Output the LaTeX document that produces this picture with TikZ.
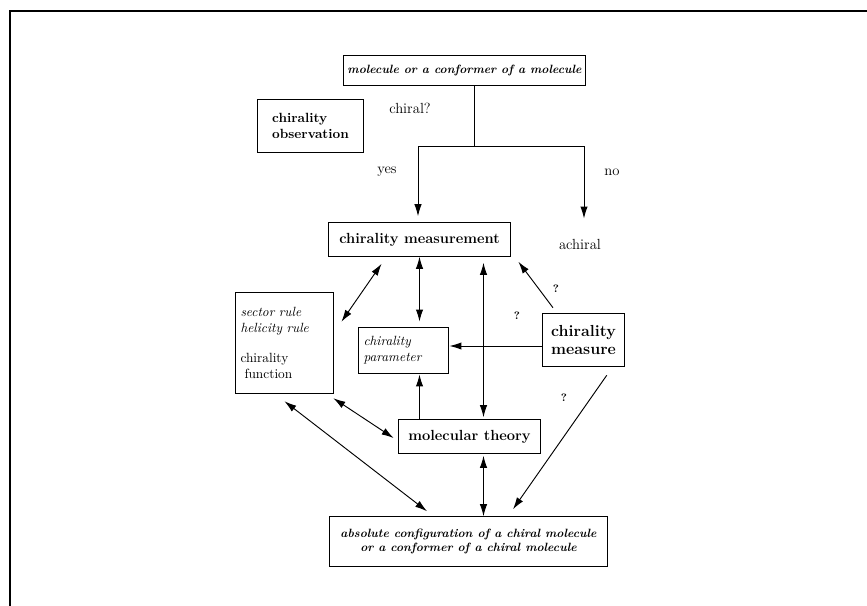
\documentclass[tikz,border=0pt]{standalone}
\usetikzlibrary{arrows.meta,calc}

\tikzset{
  box/.style={draw, line width=0.9pt, inner sep=2pt},
  arr/.style={line width=0.7pt, -{Latex[length=9pt,width=5.5pt]}},
  dbl/.style={line width=0.7pt, {Latex[length=9pt,width=5.5pt]}-{Latex[length=9pt,width=5.5pt]}},
  lbl/.style={inner sep=0pt, font=\fontsize{11}{13}\selectfont},
  qmark/.style={inner sep=0pt, font=\footnotesize\bfseries}
}

\begin{document}
\begin{tikzpicture}[x=0.75pt, y=-0.75pt]

\useasboundingbox (0,0) rectangle (867,606);
\draw[line width=1pt] (10,606) -- (10,11) -- (867,11);

% boxes
\node[box, minimum width=182pt, minimum height=23pt, font=\bfseries\itshape\small] (top) at (464.5,70.5) {molecule or a conformer of a molecule};
\node[box, minimum width=80pt, minimum height=40pt, align=left, font=\bfseries] (obs) at (310.5,126) {chirality\\observation};
\node[box, minimum width=137pt, minimum height=25pt, font=\bfseries\fontsize{11}{13}\selectfont] (meas) at (419.5,239.5) {chirality measurement};
\node[box, text width=66pt, minimum height=76pt, align=left, inner sep=4pt] (rule) at (284.5,343) {\textit{sector rule}\\\textit{helicity rule}\\[10pt]chirality\\\hspace*{3pt}function};
\node[box, text width=60pt, minimum height=35pt, align=left, inner sep=4pt, font=\itshape] (param) at (403.5,350.5) {chirality\\parameter};
\node[box, minimum width=61pt, minimum height=40pt, align=center, font=\bfseries\large] (measure) at (583.5,340) {chirality\\measure};
\node[box, minimum width=107pt, minimum height=25pt, font=\bfseries\fontsize{11}{13}\selectfont] (theory) at (469.5,436.5) {molecular theory};
\node[box, minimum width=209pt, minimum height=37pt, align=center, font=\bfseries\itshape\small] (abs) at (468.5,541.5) {absolute configuration of a chiral molecule\\or a conformer of a chiral molecule};

% texts
\node[lbl] (chiral) at (410,108) {chiral?};
\node[lbl] (yes) at (387,172) {yes};
\node[lbl] (no) at (612,172) {no};
\node[lbl] (achiral) at (580,244) {achiral};
\node[qmark] (q1) at (556,289) {?};
\node[qmark] (q2) at (517,316) {?};
\node[qmark] (q3) at (564,398) {?};

% decision
\draw[line width=0.7pt] ($(top.south)+(9.5,0)$) -- ++(0,60) coordinate (fork);
\draw[arr] (fork) -| ($(meas.north)+(-1.5,-6)$);
\draw[arr] (fork) -| ($(achiral.north)+(4,-20)$);

% connections
\coordinate (axis) at (483.5,0);
\draw[dbl, shorten >=3.75pt] (meas.south) -- (meas.south |- param.north);
\draw[dbl, shorten <=4.5pt, shorten >=1.5pt] (meas.south -| axis) -- (theory.north -| axis);
\draw[dbl, shorten <=1.5pt] (theory.south -| axis) -- (abs.north -| axis);
\draw[arr] (theory.north -| meas.south) -- (param.south -| meas.south);
\draw[arr] ([yshift=-4.5pt]measure.west) -- ([yshift=-4.5pt]measure.west -| param.east);
\draw[arr] ($(measure.north)+(-30.5,-5)$) -- ($(meas.south east)+(7,5)$);
\draw[arr] ($(measure.south east)+(-18,8)$) -- ($(abs.north)+(44.5,-7)$);
\draw[dbl] ($(rule.north east)+(7,30)$) -- ($(meas.south west)+(54,7)$);
\draw[dbl] ($(rule.south east)+(-1,4)$) -- ($(theory.west)+(-4,1.5)$);
\draw[dbl] ($(rule.south)+(0,7)$) -- ($(abs.north)+(-41.5,-5)$);

\end{tikzpicture}
\end{document}
